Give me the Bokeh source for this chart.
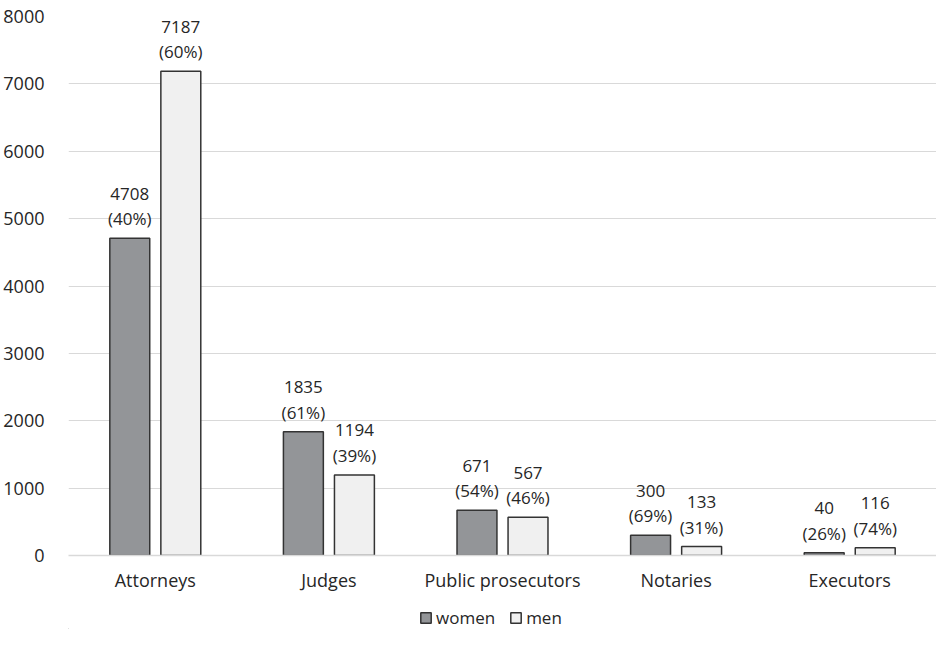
from bokeh.plotting import figure
from bokeh.layouts import column
from bokeh.models import ColumnDataSource, FactorRange, Legend, LegendItem, Range1d, FixedTicker
from bokeh.transform import dodge
from bokeh.core.properties import value
from bokeh.embed import file_html
from bokeh.resources import INLINE

categories = ["Attorneys", "Judges", "Public prosecutors", "Notaries", "Executors"]
women = [4708, 1835, 671, 300, 40]
men = [7187, 1194, 567, 133, 116]
women_pct = ["40%", "61%", "54%", "69%", "26%"]
men_pct = ["60%", "39%", "46%", "31%", "74%"]
y_ticks = [0, 1000, 2000, 3000, 4000, 5000, 6000, 7000, 8000]
series_names = ["women", "men"]

FONT = "Open Sans"
TXT = "#262626"
WOMEN_FILL = "#939598"
MEN_FILL = "#f0f0f0"
EDGE = "#333333"

src = ColumnDataSource(dict(
    cat=categories,
    women=women,
    men=men,
    wlab=[f"{v}\n({p})" for v, p in zip(women, women_pct)],
    mlab=[f"{v}\n({p})" for v, p in zip(men, men_pct)],
))

p = figure(x_range=FactorRange(*categories, range_padding=0), y_range=Range1d(0, 8000),
           width=936, height=594, output_backend="svg", toolbar_location=None,
           min_border_left=68, min_border_right=0, min_border_top=16, min_border_bottom=36)

OFF = 0.147
BW = 0.23
p.vbar(x=dodge("cat", -OFF, range=p.x_range), top="women", width=BW, source=src,
       fill_color=WOMEN_FILL, line_color=EDGE, line_width=1.5)
p.vbar(x=dodge("cat", OFF, range=p.x_range), top="men", width=BW, source=src,
       fill_color=MEN_FILL, line_color=EDGE, line_width=1.5)

for col, lab, off in (("women", "wlab", -OFF), ("men", "mlab", OFF)):
    p.text(x=dodge("cat", off, range=p.x_range), y=col, text=lab, source=src,
           text_align="center", text_baseline="bottom", y_offset=-8,
           text_font=value(FONT), text_font_size="17px", text_color=TXT, text_line_height=1.12)

p.outline_line_color = None
p.xgrid.grid_line_color = None
p.ygrid.grid_line_color = "#d9d9d9"
p.ygrid.grid_line_width = 1.2
p.yaxis.ticker = FixedTicker(ticks=y_ticks)

p.yaxis.axis_line_color = None
p.yaxis.major_tick_line_color = None
p.yaxis.minor_tick_line_color = None
p.yaxis.major_label_text_font = FONT
p.yaxis.major_label_text_font_size = "18px"
p.yaxis.major_label_text_color = TXT
p.yaxis.major_label_standoff = 18

p.xaxis.axis_line_color = "#d9d9d9"
p.xaxis.axis_line_width = 1.5
p.xaxis.major_tick_line_color = None
p.xaxis.minor_tick_line_color = None
p.xaxis.major_label_text_font = FONT
p.xaxis.major_label_text_font_size = "18px"
p.xaxis.major_label_text_color = TXT
p.xaxis.major_label_standoff = 6

# legend strip (frame is aligned with the main plot's frame in the column)
lg = figure(width=936, height=35, output_backend="svg", toolbar_location=None,
            x_range=Range1d(0, 1), y_range=Range1d(0, 1),
            x_axis_location=None, y_axis_location=None,
            min_border_left=68, min_border_right=0, min_border_top=0, min_border_bottom=0)
lg.outline_line_color = None
lg.xgrid.grid_line_color = None
lg.ygrid.grid_line_color = None
# invisible stand-in renderers (outside the strip's ranges) that only feed the legend swatches
rw = lg.vbar(x=[-5], top=[-5], width=0.1, fill_color=WOMEN_FILL, line_color=EDGE, line_width=1.5)
rm = lg.vbar(x=[-5], top=[-5], width=0.1, fill_color=MEN_FILL, line_color=EDGE, line_width=1.5)
legend = Legend(items=[LegendItem(label=series_names[0], renderers=[rw]),
                       LegendItem(label=series_names[1], renderers=[rm])],
                orientation="horizontal", location=(351, 0),
                label_text_font=FONT, label_text_font_size="17px", label_text_color=TXT,
                glyph_width=13, glyph_height=13, spacing=14, label_standoff=4,
                border_line_color=None, background_fill_alpha=0, margin=0, padding=0)
lg.add_layout(legend)

layout = column(p, lg, spacing=0)
open("out.html", "w").write(file_html(layout, INLINE))
